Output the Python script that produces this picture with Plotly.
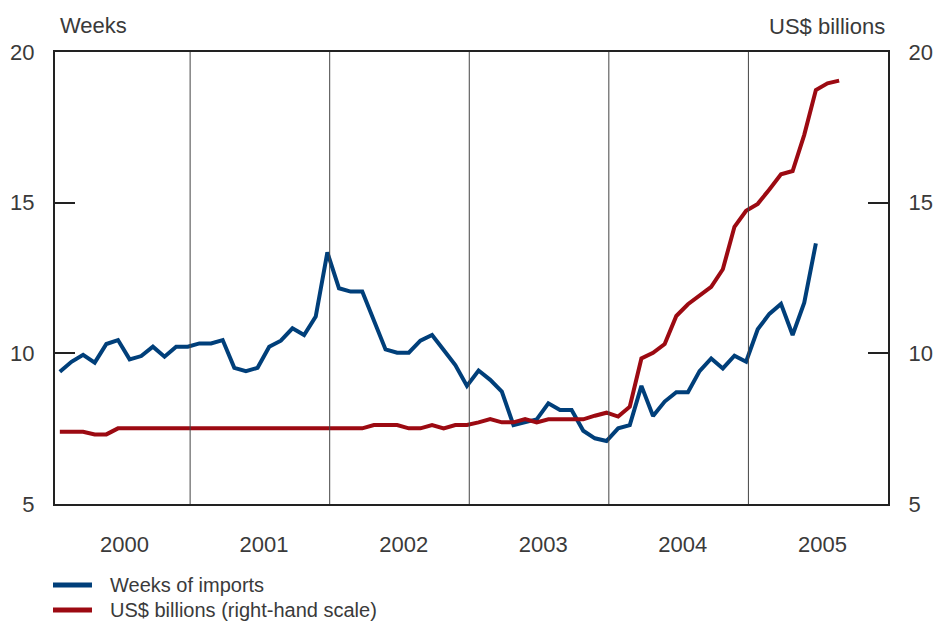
import plotly.graph_objects as go

# Monthly data, Jan 2000 onwards
weeks_of_imports = [
    9.39, 9.72, 9.95, 9.69, 10.31, 10.44, 9.80, 9.91, 10.22, 9.89, 10.22, 10.22,
    10.33, 10.33, 10.44, 9.52, 9.41, 9.52, 10.22, 10.42, 10.83, 10.61, 11.22, 13.35,
    12.16, 12.05, 12.05, 11.10, 10.13, 10.02, 10.02, 10.42, 10.61, 10.11, 9.61, 8.92,
    9.43, 9.12, 8.73, 7.62, 7.71, 7.81, 8.34, 8.12, 8.12, 7.43, 7.18, 7.09,
    7.51, 7.62, 8.92, 7.92, 8.40, 8.71, 8.71, 9.41, 9.83, 9.50, 9.92, 9.72,
    10.80, 11.31, 11.64, 10.61, 11.68, 13.65,
]
usd_billions = [
    7.40, 7.40, 7.40, 7.31, 7.31, 7.51, 7.51, 7.51, 7.51, 7.51, 7.51, 7.51,
    7.51, 7.51, 7.51, 7.51, 7.51, 7.51, 7.51, 7.51, 7.51, 7.51, 7.51, 7.51,
    7.51, 7.51, 7.51, 7.62, 7.62, 7.62, 7.51, 7.51, 7.62, 7.51, 7.62, 7.62,
    7.71, 7.82, 7.71, 7.71, 7.82, 7.71, 7.81, 7.81, 7.81, 7.81, 7.93, 8.03,
    7.90, 8.23, 9.83, 10.02, 10.31, 11.24, 11.63, 11.90, 12.21, 12.79, 14.20, 14.73,
    14.96, 15.44, 15.94, 16.05, 17.25, 18.74, 18.96, 19.05,
]
years = [2000, 2001, 2002, 2003, 2004, 2005]
year_labels = ["2000", "2001", "2002", "2003", "2004", "2005"]
y_ticks = [5, 10, 15, 20]

def month_x(n):
    return [2000 + (i + 0.8) / 12 for i in range(n)]

BLUE = "#003f7a"
RED = "#9c0a12"
TXT = "#3a3a3a"
FONT = "Liberation Sans, Arial, sans-serif"

fig = go.Figure()
fig.add_trace(go.Scatter(x=month_x(len(weeks_of_imports)), y=weeks_of_imports,
                         mode="lines", line=dict(color=BLUE, width=4),
                         name="Weeks of imports", showlegend=False))
fig.add_trace(go.Scatter(x=month_x(len(usd_billions)), y=usd_billions,
                         mode="lines", line=dict(color=RED, width=4),
                         name="US$ billions (right-hand scale)", yaxis="y2",
                         showlegend=False))

shapes = []
for yr in years[1:]:
    shapes.append(dict(type="line", xref="x", yref="paper", x0=yr, x1=yr, y0=0, y1=1,
                       line=dict(color="#444444", width=1)))

# legend swatches
leg = [("Weeks of imports", BLUE, -0.1792), ("US$ billions (right-hand scale)", RED, -0.2345)]
annotations = []
for name, col, yp in leg:
    shapes.append(dict(type="line", xref="paper", yref="paper", x0=-0.0024, x1=0.0444,
                       y0=yp, y1=yp, line=dict(color=col, width=5)))
    annotations.append(dict(text=name, xref="paper", yref="paper", x=0.0636, y=yp,
                            xanchor="left", yanchor="middle", showarrow=False,
                            font=dict(size=20, color=TXT, family=FONT)))

annotations.append(dict(text="Weeks", xref="paper", yref="paper", x=0, y=1,
                        xanchor="left", yanchor="middle", yshift=27, xshift=3,
                        showarrow=False,
                        font=dict(size=22, color=TXT, family=FONT)))
annotations.append(dict(text="US$ billions", xref="paper", yref="paper", x=1, y=1,
                        xanchor="right", yanchor="middle", yshift=26, xshift=-1,
                        showarrow=False,
                        font=dict(size=22, color=TXT, family=FONT)))

axfont = dict(size=22, color=TXT, family=FONT)
fig.update_layout(
    width=933, height=623,
    margin=dict(l=55, r=45, t=52, b=119, autoexpand=False),
    paper_bgcolor="white", plot_bgcolor="white",
    showlegend=False,
    xaxis=dict(range=[2000.032, 2006.0], tickvals=[y + 0.53 for y in years],
               ticktext=year_labels, ticks="", showgrid=False, zeroline=False,
               showline=True, linecolor="#222222", linewidth=2, mirror=True,
               tickfont=axfont, ticklabelstandoff=20, automargin=False),
    yaxis=dict(range=[5, 20], tickvals=y_ticks, ticks="inside", ticklen=20,
               tickwidth=2, tickcolor="#222222", showgrid=False, zeroline=False,
               showline=True, linecolor="#222222", linewidth=2,
               tickfont=axfont, ticklabelstandoff=14, automargin=False),
    yaxis2=dict(range=[5, 20], tickvals=y_ticks, ticks="inside", ticklen=20,
                tickwidth=2, tickcolor="#222222", showgrid=False, zeroline=False,
                showline=True, linecolor="#222222", linewidth=2,
                overlaying="y", side="right",
                tickfont=axfont, ticklabelstandoff=14, automargin=False),
    shapes=shapes, annotations=annotations,
)

fig.write_html("out.html", config={"displayModeBar": False},
               post_script="document.body.style.margin='0';document.body.style.padding='0';")
